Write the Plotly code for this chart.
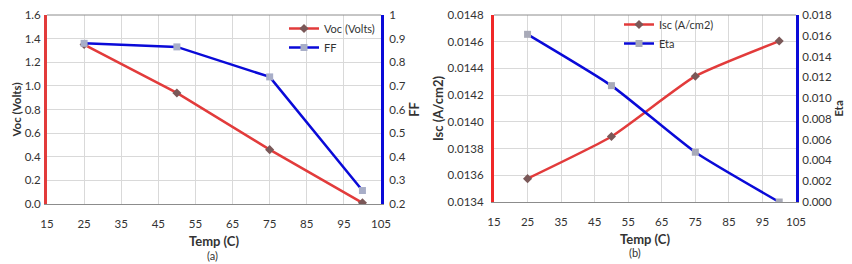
import plotly.graph_objects as go

temp = [25, 50, 75, 100]
voc = [1.35, 0.94, 0.46, 0.01]
ff = [0.88, 0.865, 0.738, 0.257]
isc = [0.013575, 0.013890, 0.014342, 0.014605]
eta = [0.01614, 0.0112, 0.00479, 0.0]

x_ticks = [15, 25, 35, 45, 55, 65, 75, 85, 95, 105]
voc_ticks = [0.0, 0.2, 0.4, 0.6, 0.8, 1.0, 1.2, 1.4, 1.6]
ff_ticks = [0.2, 0.3, 0.4, 0.5, 0.6, 0.7, 0.8, 0.9, 1.0]
ff_labels = ["0.2", "0.3", "0.4", "0.5", "0.6", "0.7", "0.8", "0.9", "1"]
isc_ticks = [0.0134, 0.0136, 0.0138, 0.0140, 0.0142, 0.0144, 0.0146, 0.0148]
eta_ticks = [0.0, 0.002, 0.004, 0.006, 0.008, 0.010, 0.012, 0.014, 0.016, 0.018]

RED = "#e23b3b"
RED2 = "#f02828"
BLUE = "#0a0ad8"
FONT = "Lato"
TXT = "#333333"

fig = go.Figure()
fig.add_trace(go.Scatter(x=temp, y=voc, name="Voc (Volts)", mode="lines+markers",
                         line=dict(color=RED, width=2.5),
                         marker=dict(symbol="diamond", size=7, color="#7a5858"),
                         xaxis="x", yaxis="y", legend="legend"))
fig.add_trace(go.Scatter(x=temp, y=ff, name="FF", mode="lines+markers",
                         line=dict(color=BLUE, width=2.5),
                         marker=dict(symbol="square", size=7, color="#a8aec8"),
                         xaxis="x", yaxis="y2", legend="legend"))
fig.add_trace(go.Scatter(x=temp, y=isc, name="Isc (A/cm2)", mode="lines+markers",
                         line=dict(color=RED, width=2.5, shape="spline", smoothing=0.5),
                         marker=dict(symbol="diamond", size=7, color="#7a5858"),
                         xaxis="x2", yaxis="y3", legend="legend2"))
fig.add_trace(go.Scatter(x=temp, y=eta, name="Eta", mode="lines+markers",
                         line=dict(color=BLUE, width=2.5, shape="spline", smoothing=0.5),
                         marker=dict(symbol="square", size=7, color="#a8aab8"),
                         xaxis="x2", yaxis="y4", legend="legend2"))

W, H = 852, 264
OFF = 8  # page body margin offsets the figure by 8px; positions below are screen pixels
def px(v):
    return (v - OFF) / W
def py(v):
    return 1 - (v - OFF) / H

tickfont = dict(family=FONT, size=11.5, color=TXT)
titlefont = dict(family=FONT, size=13, color=TXT, weight="bold")
smalltitle = dict(family=FONT, size=11.5, color=TXT, weight="bold")

common_x = dict(range=[15, 105], tickvals=x_ticks, showgrid=True, gridcolor="#d9d9d9",
                gridwidth=1, showline=True, linecolor="#8c8c8c", linewidth=1, mirror=False,
                ticks="", tickfont=tickfont, zeroline=False, ticklabelstandoff=9,
                ticklabeloverflow="allow")

fig.update_layout(
    width=W, height=H, margin=dict(l=0, r=0, t=0, b=0, autoexpand=False),
    paper_bgcolor="white", plot_bgcolor="white",
    xaxis=dict(common_x, domain=[px(47), px(381)], anchor="y",
               title=dict(text="Temp (C)", font=titlefont, standoff=8)),
    yaxis=dict(domain=[py(204), py(15)], anchor="x", range=[0, 1.6], tickvals=voc_ticks,
               tickformat=".1f", ticklabelstandoff=1, ticklabeloverflow="allow",
               showgrid=True, gridcolor="#d9d9d9", showline=True, linecolor=RED, linewidth=3,
               ticks="", tickfont=tickfont, zeroline=False,
               title=dict(text="Voc (Volts)", font=smalltitle, standoff=1)),
    yaxis2=dict(domain=[py(204), py(15)], anchor="x", overlaying="y", side="right",
                range=[0.2, 1.0], tickvals=ff_ticks, ticktext=ff_labels, showgrid=False,
                showline=True, linecolor=BLUE, ticklabeloverflow="allow", ticklabelstandoff=3,
                linewidth=3, ticks="", tickfont=tickfont, zeroline=False,
                title=dict(text="FF", font=titlefont, standoff=6)),
    xaxis2=dict(common_x, domain=[px(494), px(796)], anchor="y3",
                title=dict(text="Temp (C)", font=titlefont, standoff=8)),
    yaxis3=dict(domain=[py(202), py(15)], anchor="x2", range=[0.0134, 0.0148], tickvals=isc_ticks,
                tickformat=".4f", showgrid=True, gridcolor="#d9d9d9", showline=True,
                ticklabelstandoff=5, ticklabeloverflow="allow",
                linecolor=RED2, linewidth=3, ticks="", tickfont=tickfont, zeroline=False,
                title=dict(text="Isc (A/cm2)", font=titlefont, standoff=2)),
    yaxis4=dict(domain=[py(202), py(15)], anchor="x2", overlaying="y3", side="right",
                range=[0, 0.018], tickvals=eta_ticks, tickformat=".3f", showgrid=False,
                showline=True, ticklabeloverflow="allow", ticklabelstandoff=1,
                linecolor=BLUE, linewidth=3, ticks="", tickfont=tickfont, zeroline=False,
                title=dict(text="Eta", font=smalltitle, standoff=0)),
    legend=dict(x=276 / W, y=1 - 6 / H, xanchor="left", yanchor="top", bgcolor="rgba(0,0,0,0)",
                font=dict(family=FONT, size=11, color=TXT), tracegroupgap=0, itemwidth=30),
    legend2=dict(x=611 / W, y=1 - 2 / H, xanchor="left", yanchor="top", bgcolor="rgba(0,0,0,0)",
                 font=dict(family=FONT, size=11, color=TXT), tracegroupgap=0, itemwidth=30),
    showlegend=True,
    annotations=[
        dict(text="(a)", x=px(205), y=py(255), xref="paper", yref="paper", showarrow=False,
             yanchor="middle", font=dict(family=FONT, size=11, color=TXT)),
        dict(text="(b)", x=px(643), y=py(252), xref="paper", yref="paper", showarrow=False,
             yanchor="middle", font=dict(family=FONT, size=11, color=TXT)),
    ],
)

# top border of plot areas
fig.add_shape(type="line", xref="x domain", yref="y domain", x0=0, x1=1, y0=1, y1=1,
              line=dict(color="#8c8c8c", width=1))
fig.add_shape(type="line", xref="x2 domain", yref="y3 domain", x0=0, x1=1, y0=1, y1=1,
              line=dict(color="#8c8c8c", width=1))

fig.write_html("out.html")
